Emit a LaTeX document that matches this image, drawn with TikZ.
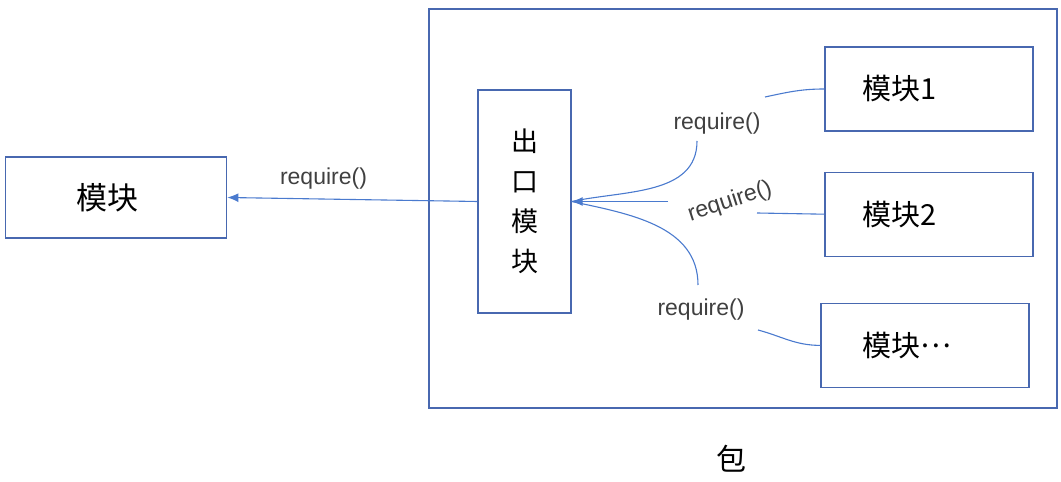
\documentclass[tikz,border=0pt]{standalone}
\usepackage{fontspec}
\usepackage{xcolor}
\usetikzlibrary{arrows.meta,positioning,calc}
\newfontfamily\cjk{Noto Sans CJK SC}
\newfontfamily\latinsans{Liberation Sans}
\definecolor{linkblue}{RGB}{74,122,206}
\definecolor{boxblue}{RGB}{72,104,176}
\definecolor{labelgray}{RGB}{64,64,64}
\tikzset{
	box/.style={draw=boxblue, line width=1.2pt, inner sep=0pt, font=\cjk\fontsize{29}{40}\selectfont},
	modbox/.style={box, minimum width=208pt, minimum height=84pt, text width=134pt, inner xsep=37pt, align=left},
	link/.style={draw=linkblue, line width=1.1pt},
	arrow/.style={link, -{Latex[length=11pt,width=9pt]}},
	calllabel/.style={font=\latinsans\fontsize{23}{26}\selectfont, text=labelgray, inner sep=1pt}
}

\begin{document}
\begin{tikzpicture}[x=1pt, y=1pt]
	\useasboundingbox (0,0) rectangle (1061,482);
	
	%% -- Package frame and its caption
	\node[draw=boxblue, line width=1.2pt, minimum width=628pt, minimum height=399pt] (pkg) at (743,273.5) {};
	\node[font=\cjk\fontsize{30}{36}\selectfont] (pkgname) at (731,23.5) {包};
	
	%% -- Exit module
	\node[box, minimum width=93pt, minimum height=223pt, align=center,
	font=\cjk\fontsize{27}{40}\selectfont] (exit) at (524.5,280.5) {出\\口\\模\\块};
	
	%% -- Outside module
	\node[box, minimum width=221pt, minimum height=81pt, text width=79pt, inner xsep=71pt, align=left,
	font=\cjk\fontsize{31}{40}\selectfont, left=250pt of exit, yshift=4pt] (mod) {模块};
	
	%% -- Modules inside the package
	\node[modbox] (m1) at (929,393) {模块1};
	\node[modbox, below=40pt of m1] (m2) {模块2};
	\node[modbox, below=46pt of m2, xshift=-4pt, text width=126pt, inner xsep=41pt] (m3)
	{模块\raisebox{0.3em}{\char"2026}};
	
	%% -- Call labels
	\node[calllabel] (call0) at (323.5,303) {require()};
	\node[calllabel] (call1) at (717,358) {require()};
	\node[calllabel, rotate=18] (call2) at (730,280) {require()};
	\node[calllabel] (call3) at (701,172) {require()};
	
	%% -- Free ends next to the labels
	\coordinate (c1a) at (765,385);
	\coordinate (c1b) at (697,341);
	\coordinate (c2a) at (757,269);
	\coordinate (c2b) at (668,280.5);
	\coordinate (c3a) at (758,152);
	\coordinate (c3b) at (698,197);
	
	%% -- Connectors
	\draw[arrow] (exit.west) -- (mod.east);
	\draw[link] (m1.west) to[out=180,in=12] (c1a);
	\draw[link] (c1b) to[out=-90,in=12] (exit.east);
	\draw[link] (m2.west) -- (c2a);
	\draw[arrow] (c2b) -- (exit.east);
	\draw[link] (m3.west) to[out=180,in=-15] (c3a);
	\draw[link] (c3b) to[out=90,in=-12] (exit.east);
	
\end{tikzpicture}
\end{document}
